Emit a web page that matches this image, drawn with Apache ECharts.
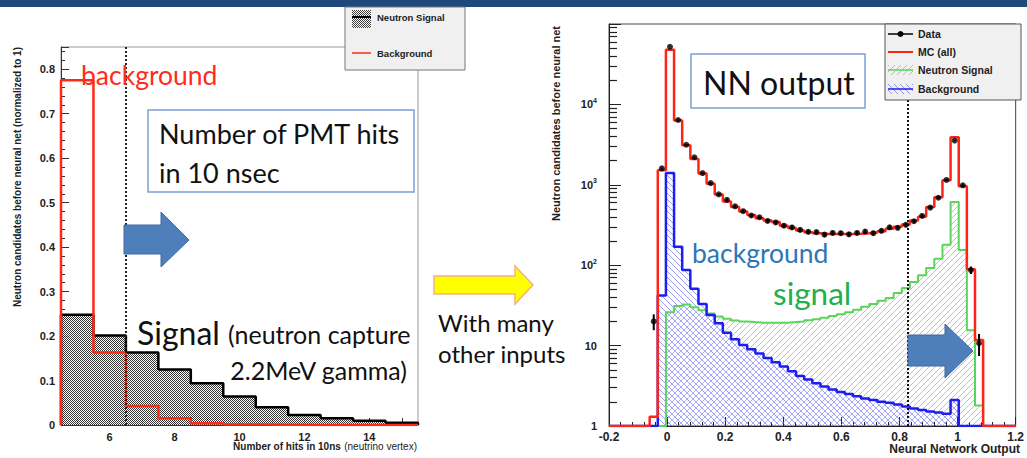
<!DOCTYPE html>
<html>
<head>
<meta charset="utf-8">
<script src="https://cdn.jsdelivr.net/npm/echarts@6/dist/echarts.min.js"></script>
<style>
  html, body { margin: 0; padding: 0; background: #fff; }
  #root { width: 1027px; height: 458px; }
</style>
</head>
<body>
<div id="root"></div>
<script>
// left panel: number of PMT hits in 10 ns, bins of width 1 starting at 4.5
const hitsStart = 4.5;
const hitsWidth = 1;
const hitsSignal = [0.248, 0.201, 0.163, 0.125, 0.094, 0.064, 0.040, 0.0225, 0.015, 0.0097, 0.005];
const hitsBackground = [0.775, 0.163, 0.043, 0.015, 0.004, 0.001, 0.0005, 0, 0, 0, 0];
const hitsXLabels = [6, 8, 10, 12, 14];
const hitsCut = 6.5;

// right panel: neural network output, bins of width 0.028 starting at -0.06
const nnStart = -0.06;
const nnWidth = 0.028;
const nnMC = [1.3, 1520, 48000, 6300, 3100, 2100, 1380, 1030, 760, 620, 530, 465, 420, 385, 360, 345,
  310, 290, 270, 257, 250, 245, 245, 245, 245, 247, 250, 255, 265, 285, 300, 320, 360, 400, 530, 700,
  1140, 3900, 960, 89, 11.7];
const nnBackground = [0, 42, 1400, 170, 87, 51, 33, 24, 19, 14.5, 12, 10.2, 9, 8, 7, 6.2, 5.5, 4.8, 4.2,
  3.8, 3.4, 3.1, 2.85, 2.65, 2.5, 2.35, 2.2, 2.1, 2.0, 1.95, 1.85, 1.75, 1.65, 1.58, 1.52, 1.47, 1.42,
  2.1, 0, 0, 0];
const nnSignal = [0, 0, 26, 31, 32.5, 30, 27.5, 25, 23, 21.5, 20.5, 20, 19.6, 19.3, 19.2, 19.2, 19.3,
  19.6, 20, 20.6, 21.3, 22.2, 23.3, 24.5, 26, 28, 30.5, 33, 36, 39, 45, 52, 62, 75, 92, 120, 180, 610,
  154, 15.5, 1.8];
const nnData = [20, 1600, 52000, 6400, 3150, 2200, 1400, 1050, 760, 650, 540, 470, 415, 395, 355, 340,
  310, 295, 275, 260, 258, 240, 252, 250, 242, 252, 262, 250, 268, 296, 292, 318, 352, 410, 520, 690,
  1150, 3550, 985, 87, 10.7];
const nnCut = 0.83;

// turn bin contents into step outline points (step: 'end')
function histPoints(start, width, values, floor, xMin, xMax) {
  const pts = [[xMin, floor]];
  values.forEach((v, i) => pts.push([start + i * width, Math.max(v, floor)]));
  const end = start + values.length * width;
  pts.push([end, Math.max(values[values.length - 1], floor)]);
  pts.push([end, floor]);
  pts.push([xMax, floor]);
  return pts;
}

function hatch(dir, color) {
  const c = document.createElement("canvas");
  c.width = c.height = 6;
  const g = c.getContext("2d");
  g.strokeStyle = color;
  g.lineWidth = 1;
  g.beginPath();
  if (dir === "/") {
    g.moveTo(0, 6); g.lineTo(6, 0);
    g.moveTo(-1, 1); g.lineTo(1, -1);
    g.moveTo(5, 7); g.lineTo(7, 5);
  } else {
    g.moveTo(0, 0); g.lineTo(6, 6);
    g.moveTo(5, -1); g.lineTo(7, 1);
    g.moveTo(-1, 5); g.lineTo(1, 7);
  }
  g.stroke();
  return c;
}

function checker() {
  const c = document.createElement("canvas");
  c.width = c.height = 4;
  const g = c.getContext("2d");
  g.fillStyle = "#fff";
  g.fillRect(0, 0, 4, 4);
  g.fillStyle = "#111";
  for (let y = 0; y < 4; y++)
    for (let x = 0; x < 4; x++)
      if ((x + y) % 2 === 0) g.fillRect(x, y, 1, 1);
  return c;
}

const greenPat = { image: hatch("/", "rgba(90,205,90,0.65)"), repeat: "repeat" };
const bluePat = { image: hatch("\\", "rgba(60,60,225,0.5)"), repeat: "repeat" };
const dotPat = { image: checker(), repeat: "repeat" };

const labelFont = { fontFamily: "Liberation Sans", fontWeight: "bold", fontSize: 11, color: "#222" };
const noteFont = "Lato";
// minor ticks of the log axis, placed on a linear 0..5 helper axis (decades)
const logMinor = [];
[0, 1, 2, 3, 4].forEach((d) => {
  for (let m = 2; m <= 9; m++) logMinor.push(d + Math.log10(m));
});

var MyChart = echarts.init(document.getElementById("root"), null, { renderer: "svg" });
var option = {
  animation: false,
  grid: [
    { left: 61, top: 47, width: 357, height: 378, show: true, borderColor: "#999", borderWidth: 1 },
    { left: 609, top: 24, width: 413, height: 402, show: true, borderColor: "#444", borderWidth: 1 },
  ],
  xAxis: [
    {
      type: "value", gridIndex: 0, min: 4.5, max: 15.5,
      axisLine: { onZero: false, lineStyle: { color: "#333" } },
      axisTick: { inside: true, length: 7, customValues: [5, 6, 7, 8, 9, 10, 11, 12, 13, 14, 15], lineStyle: { color: "#333" } },
      axisLabel: Object.assign({ customValues: hitsXLabels, margin: 6 }, labelFont),
      splitLine: { show: false },
    },
    {
      type: "value", gridIndex: 1, min: -0.2, max: 1.2, interval: 0.2,
      axisLine: { onZero: false, lineStyle: { color: "#222" } },
      axisTick: { inside: true, length: 9, lineStyle: { color: "#222" } },
      minorTick: { show: true, splitNumber: 5, length: 4, lineStyle: { color: "#222" } },
      axisLabel: Object.assign({ margin: 5 }, labelFont, { fontSize: 12 }),
      splitLine: { show: false },
    },
  ],
  yAxis: [
    {
      type: "value", gridIndex: 0, min: 0, max: 0.85, interval: 0.1, position: "left",
      axisLine: { show: true, onZero: false, lineStyle: { color: "#333" } },
      axisTick: { inside: true, length: 8, lineStyle: { color: "#333" } },
      minorTick: { show: true, splitNumber: 5, length: 4, lineStyle: { color: "#333" } },
      axisLabel: Object.assign({
        margin: 6,
        formatter: (v) => (v > 0.81 ? "" : v === 0 ? "0" : v.toFixed(1)),
      }, labelFont),
      splitLine: { show: false },
    },
    {
      type: "log", gridIndex: 1, min: 1, max: 100000, logBase: 10, position: "left",
      axisLine: { show: true, onZero: false, lineStyle: { color: "#222" } },
      axisTick: { inside: true, length: 12, lineStyle: { color: "#222" } },
      axisLabel: Object.assign({
        margin: 12,
        formatter: (v) => {
          const e = Math.round(Math.log10(v));
          if (e === 0) return "1";
          if (e === 1) return "10";
          if (e >= 5) return "";
          return "{b|10}{s|" + e + "}";
        },
        rich: {
          b: { fontFamily: "Liberation Sans", fontWeight: "bold", fontSize: 11, color: "#222" },
          s: { fontFamily: "Liberation Sans", fontWeight: "bold", fontSize: 7, color: "#222", padding: [0, 0, 8, 0] },
        },
      }, labelFont),
      splitLine: { show: false },
    },
    {
      type: "value", gridIndex: 1, min: 0, max: 5, position: "left", offset: 0,
      axisLine: { show: false, onZero: false },
      axisTick: { show: true, inside: true, length: 8, customValues: logMinor, lineStyle: { color: "#222", width: 1.2 } },
      axisLabel: { show: false },
      splitLine: { show: false },
    },
  ],
  series: [
    {
      name: "Neutron Signal", type: "line", step: "end", xAxisIndex: 0, yAxisIndex: 0,
      data: histPoints(hitsStart, hitsWidth, hitsSignal, 0, 4.5, 15.5),
      symbol: "none", lineStyle: { color: "#000", width: 2.5 },
      areaStyle: { color: dotPat, opacity: 0.85, origin: "start" },
    },
    {
      name: "Background", type: "line", step: "end", xAxisIndex: 0, yAxisIndex: 0,
      data: histPoints(hitsStart, hitsWidth, hitsBackground, 0, 4.5, 15.5),
      symbol: "none", lineStyle: { color: "#ff2a16", width: 2.5 }, z: 3,
      markLine: {
        silent: true, symbol: "none", label: { show: false },
        lineStyle: { color: "#222", type: [2, 2], width: 2 },
        data: [{ xAxis: hitsCut }],
      },
    },
    {
      name: "Neutron Signal NN", type: "line", step: "end", xAxisIndex: 1, yAxisIndex: 1,
      data: histPoints(nnStart, nnWidth, nnSignal, 1, -0.2, 1.2),
      symbol: "none", lineStyle: { color: "#5cd45c", width: 2 },
      areaStyle: { color: greenPat, opacity: 1, origin: "start" },
    },
    {
      name: "Background NN", type: "line", step: "end", xAxisIndex: 1, yAxisIndex: 1,
      data: histPoints(nnStart, nnWidth, nnBackground, 1, -0.2, 1.2),
      symbol: "none", lineStyle: { color: "#1e1ef0", width: 2.5 },
      areaStyle: { color: bluePat, opacity: 1, origin: "start" },
    },
    {
      name: "MC (all)", type: "line", step: "end", xAxisIndex: 1, yAxisIndex: 1,
      data: histPoints(nnStart, nnWidth, nnMC, 1, -0.2, 1.2),
      symbol: "none", lineStyle: { color: "#ff2418", width: 2.5 }, z: 3,
      markLine: {
        silent: true, symbol: "none", label: { show: false },
        lineStyle: { color: "#111", type: [2, 2], width: 2 },
        data: [{ xAxis: nnCut }],
      },
    },
    {
      name: "Data errors", type: "custom", xAxisIndex: 1, yAxisIndex: 1, z: 4,
      data: nnData.map((v, i) => [nnStart + (i + 0.5) * nnWidth, v]),
      renderItem: (params, api) => {
        const x = api.value(0), y = api.value(1), e = Math.sqrt(y);
        const top = api.coord([x, y + e]);
        const bot = api.coord([x, Math.max(y - e, 1)]);
        return {
          type: "line",
          shape: { x1: top[0], y1: top[1], x2: bot[0], y2: bot[1] },
          style: { stroke: "#000", lineWidth: 2 },
        };
      },
    },
    {
      name: "Data", type: "scatter", xAxisIndex: 1, yAxisIndex: 1, z: 5,
      data: nnData.map((v, i) => [nnStart + (i + 0.5) * nnWidth, v]),
      symbol: "circle", symbolSize: 6, itemStyle: { color: "#000" },
    },
  ],
  graphic: [
    { type: "rect", shape: { x: 0, y: 0, width: 1027, height: 7 }, style: { fill: "#1f497d" }, z: 50 },

    // axis titles
    {
      type: "text", x: 17, y: 47, rotation: Math.PI / 2,
      style: { text: "Neutron candidates before neural net (normalized to 1)", align: "right", verticalAlign: "middle",
        font: "bold 10px 'Liberation Sans'", fill: "#222" },
    },
    {
      type: "text", x: 417, y: 446,
      style: {
        text: "{b|Number of hits in 10ns} {n|(neutrino vertex)}", align: "right", verticalAlign: "middle",
        rich: {
          b: { fontFamily: "Liberation Sans", fontWeight: "bold", fontSize: 10, fill: "#222" },
          n: { fontFamily: "Liberation Sans", fontSize: 10, fill: "#222" },
        },
      },
    },
    {
      type: "text", x: 556, y: 26, rotation: Math.PI / 2,
      style: { text: "Neutron candidates before neural net", align: "right", verticalAlign: "middle",
        font: "bold 11px 'Liberation Sans'", fill: "#222" },
    },
    {
      type: "text", x: 1020, y: 449,
      style: { text: "Neural Network Output", align: "right", verticalAlign: "middle",
        font: "bold 12px 'Liberation Sans'", fill: "#222" },
    },

    // left legend
    { type: "rect", shape: { x: 345, y: 7, width: 120, height: 63 }, style: { fill: "#f0f0f0", stroke: "#777", lineWidth: 1 }, z: 60 },
    { type: "rect", shape: { x: 352, y: 10, width: 19, height: 18 }, style: { fill: dotPat, opacity: 0.8 }, z: 61 },
    { type: "line", shape: { x1: 352, y1: 17, x2: 371, y2: 17 }, style: { stroke: "#000", lineWidth: 2 }, z: 62 },
    { type: "text", x: 377, y: 17, style: { text: "Neutron Signal", verticalAlign: "middle", font: "bold 9.5px 'Liberation Sans'", fill: "#222" }, z: 62 },
    { type: "line", shape: { x1: 352, y1: 53, x2: 371, y2: 53 }, style: { stroke: "#ff2a16", lineWidth: 1.5 }, z: 62 },
    { type: "text", x: 377, y: 53, style: { text: "Background", verticalAlign: "middle", font: "bold 9.5px 'Liberation Sans'", fill: "#222" }, z: 62 },

    // right legend
    { type: "rect", shape: { x: 885, y: 24, width: 136, height: 76 }, style: { fill: "#f0f0f0", stroke: "#555", lineWidth: 1 }, z: 60 },
    { type: "line", shape: { x1: 888, y1: 34, x2: 913, y2: 34 }, style: { stroke: "#000", lineWidth: 1.5 }, z: 61 },
    { type: "circle", shape: { cx: 900.5, cy: 34, r: 3 }, style: { fill: "#000" }, z: 62 },
    { type: "text", x: 918, y: 34, style: { text: "Data", verticalAlign: "middle", font: "bold 10.5px 'Liberation Sans'", fill: "#222" }, z: 62 },
    { type: "line", shape: { x1: 888, y1: 52, x2: 913, y2: 52 }, style: { stroke: "#ff2418", lineWidth: 2 }, z: 61 },
    { type: "text", x: 918, y: 52, style: { text: "MC (all)", verticalAlign: "middle", font: "bold 10.5px 'Liberation Sans'", fill: "#222" }, z: 62 },
    { type: "rect", shape: { x: 888, y: 65, width: 25, height: 10 }, style: { fill: greenPat }, z: 61 },
    { type: "line", shape: { x1: 888, y1: 70, x2: 913, y2: 70 }, style: { stroke: "#5cd45c", lineWidth: 1.5 }, z: 62 },
    { type: "text", x: 918, y: 70, style: { text: "Neutron Signal", verticalAlign: "middle", font: "bold 10.5px 'Liberation Sans'", fill: "#222" }, z: 62 },
    { type: "rect", shape: { x: 888, y: 84, width: 25, height: 10 }, style: { fill: bluePat }, z: 61 },
    { type: "line", shape: { x1: 888, y1: 89, x2: 913, y2: 89 }, style: { stroke: "#1e1ef0", lineWidth: 1.5 }, z: 62 },
    { type: "text", x: 918, y: 89, style: { text: "Background", verticalAlign: "middle", font: "bold 10.5px 'Liberation Sans'", fill: "#222" }, z: 62 },

    // annotations, left
    { type: "text", x: 81, y: 75, style: { text: "background", verticalAlign: "middle", font: "26.5px " + noteFont, fill: "#ff2b1c" }, z: 70 },
    { type: "rect", shape: { x: 148, y: 110, width: 266, height: 82 }, style: { fill: "#fff", stroke: "#7aa1d2", lineWidth: 1.5 }, z: 70 },
    { type: "text", x: 159, y: 133, style: { text: "Number of PMT hits", verticalAlign: "middle", font: "27px " + noteFont, fill: "#111" }, z: 71 },
    { type: "text", x: 159, y: 172, style: { text: "in 10 nsec", verticalAlign: "middle", font: "27px " + noteFont, fill: "#111" }, z: 71 },
    {
      type: "polygon", z: 70,
      shape: { points: [[124, 225], [161, 225], [161, 212], [189, 240], [161, 267], [161, 254], [124, 254]] },
      style: { fill: "#4f7fbb", stroke: "#3d6aa3", lineWidth: 1 },
    },
    { type: "text", x: 137, y: 332, style: { text: "Signal", verticalAlign: "middle", font: "32px " + noteFont, fill: "#111" }, z: 70 },
    { type: "text", x: 228, y: 334, style: { text: "(neutron capture", verticalAlign: "middle", font: "25px " + noteFont, fill: "#111" }, z: 70 },
    { type: "text", x: 407, y: 370, style: { text: "2.2MeV gamma)", align: "right", verticalAlign: "middle", font: "25px " + noteFont, fill: "#111" }, z: 70 },

    // middle
    {
      type: "polygon", z: 70,
      shape: { points: [[434, 276], [515, 276], [515, 266], [533, 285], [515, 304], [515, 294], [434, 294]] },
      style: { fill: "#ffff00", stroke: "#f4b183", lineWidth: 1.5 },
    },
    { type: "text", x: 438, y: 322, style: { text: "With many", verticalAlign: "middle", font: "24px " + noteFont, fill: "#111" }, z: 70 },
    { type: "text", x: 438, y: 353, style: { text: "other inputs", verticalAlign: "middle", font: "24px " + noteFont, fill: "#111" }, z: 70 },

    // annotations, right
    { type: "rect", shape: { x: 691, y: 54, width: 174, height: 54 }, style: { fill: "#fff", stroke: "#7aa1d2", lineWidth: 1.5 }, z: 70 },
    { type: "text", x: 703, y: 82, style: { text: "NN output", verticalAlign: "middle", font: "32px " + noteFont, fill: "#111" }, z: 71 },
    { type: "text", x: 692, y: 253, style: { text: "background", verticalAlign: "middle", font: "26.5px " + noteFont, fill: "#2e75b6" }, z: 70 },
    { type: "text", x: 773, y: 293, style: { text: "signal", verticalAlign: "middle", font: "31.5px " + noteFont, fill: "#22b04b" }, z: 70 },
    {
      type: "polygon", z: 70,
      shape: { points: [[908, 335], [945, 335], [945, 324], [973, 351], [945, 378], [945, 366], [908, 366]] },
      style: { fill: "#4f7fbb", stroke: "#3d6aa3", lineWidth: 1 },
    },
  ],
};
MyChart.setOption(option);
</script>
</body>
</html>
